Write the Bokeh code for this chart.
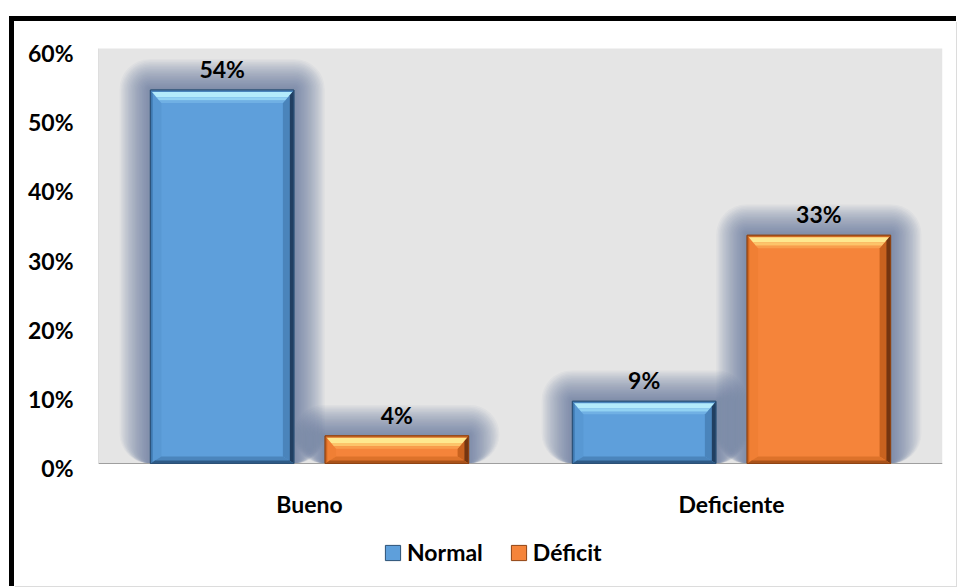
from bokeh.plotting import figure
from bokeh.models import Range1d, LinearAxis, FixedTicker, Legend, LegendItem
from bokeh.core.properties import value
from bokeh.embed import file_html
from bokeh.resources import INLINE

# ---- data -------------------------------------------------------------
categories = ["Bueno", "Deficiente"]
series_names = ["Normal", "Déficit"]
normal_values = [54, 9]
deficit_values = [4, 33]
y_ticks = [0, 10, 20, 30, 40, 50, 60]
y_tick_labels = ["0%", "10%", "20%", "30%", "40%", "50%", "60%"]

# ---- layout (page pixels) -----------------------------------------------
OX, OY = 14, 21                    # top-left of the drawing surface inside the frame
W, H = 942, 565
FRAME_L, FRAME_R = 98, 942
FRAME_T, FRAME_B = 22, 586
ZERO_PX, TOP_PX = 463, 48          # page rows of 0 % and 60 %
ppu = (ZERO_PX - TOP_PX) / 60.0    # pixels per percent
ppx = (FRAME_R - FRAME_L) / 2.0    # pixels per category
y_start = -(FRAME_B - ZERO_PX) / ppu
y_end = 60 + (TOP_PX - FRAME_T) / ppu

FONT = value("Lato")
FS = "23px"

BAR_W = 0.34
DODGE = 0.207

styles = {
    "Normal": dict(base="#5e9fdb", line="#2c5176",
                   top=["#4a85bc", "#b3ebfb", "#92d2f3", "#70b0e4"],
                   left=["#3f79b0", "#5898d3"], right=["#213f61", "#4a84bb"],
                   bottom=["#2e5a86", "#4b85bc"]),
    "Déficit": dict(base="#f5843a", line="#8f4414",
                    top=["#cf6a24", "#fee88f", "#fcc46a", "#f89c4c"],
                    left=["#d0651f", "#f07f34"], right=["#743510", "#c8621f"],
                    bottom=["#a9521a", "#dd722a"]),
}

p = figure(width=W, height=H, x_range=Range1d(0, 2), y_range=Range1d(y_start, y_end),
           x_axis_location=None, y_axis_location=None,
           output_backend="svg", toolbar_location=None,
           min_border_left=FRAME_L - OX, min_border_right=OX + W - FRAME_R,
           min_border_top=FRAME_T - OY, min_border_bottom=OY + H - FRAME_B,
           background_fill_color="white", border_fill_color="white",
           outline_line_color=None,
           styles={"position": "absolute", "left": f"{OX}px", "top": f"{OY}px",
                   "box-shadow": "0 -5px 0 0 #000000, -5px 0 0 0 #000000, "
                                 "-5px -5px 0 0 #000000, 1px 1px 0 0 #dcdcdc"})
for g in p.grid:
    g.visible = False

# plot area
p.quad(left=[0], right=[2], bottom=[0], top=[60], fill_color="#e5e5e5", line_color=None)
p.segment(x0=[0], x1=[0], y0=[0], y1=[60], line_color="#c4c4c4", line_width=1)

# bar geometry
bars = []
for si, (name, vals) in enumerate(zip(series_names, [normal_values, deficit_values])):
    off = -DODGE if si == 0 else DODGE
    for ci, v in enumerate(vals):
        cx = ci + 0.5 + off
        bars.append(dict(series=name, cx=cx, x0=cx - BAR_W / 2, x1=cx + BAR_W / 2, v=v))

# soft glow behind the bars
N_GLOW, STEP = 22, 1.4
for k in range(N_GLOW, 0, -1):
    d = k * STEP
    p.quad(left=[b["x0"] - d / ppx for b in bars],
           right=[b["x1"] + d / ppx for b in bars],
           top=[b["v"] + d / ppu for b in bars],
           bottom=[0] * len(bars),
           fill_color="#4d6f94", fill_alpha=0.048, line_color=None,
           border_radius=int(d))

# category axis line
p.segment(x0=[0], x1=[2], y0=[0], y1=[0], line_color="#9f9f9f", line_width=1)

# bars with bevelled edges
base_renderers = {}
SIDE, TOPB, BOTB = 11.0, 13.0, 7.0


def band(x0, x1, top, bot, sx, ty, by, face, f0, f1):
    """Quadrilateral strip of one bevel face between depth fractions f0 and f1."""
    if face == "top":
        return ([x0 + sx * f0, x1 - sx * f0, x1 - sx * f1, x0 + sx * f1],
                [top - ty * f0, top - ty * f0, top - ty * f1, top - ty * f1])
    if face == "bottom":
        return ([x0 + sx * f0, x1 - sx * f0, x1 - sx * f1, x0 + sx * f1],
                [bot + by * f0, bot + by * f0, bot + by * f1, bot + by * f1])
    if face == "left":
        return ([x0 + sx * f0, x0 + sx * f1, x0 + sx * f1, x0 + sx * f0],
                [top - ty * f0, top - ty * f1, bot + by * f1, bot + by * f0])
    return ([x1 - sx * f0, x1 - sx * f1, x1 - sx * f1, x1 - sx * f0],
            [top - ty * f0, top - ty * f1, bot + by * f1, bot + by * f0])


for name in series_names:
    st = styles[name]
    sb = [b for b in bars if b["series"] == name]
    r = p.quad(left=[b["x0"] for b in sb], right=[b["x1"] for b in sb],
               top=[b["v"] for b in sb], bottom=[0] * len(sb),
               fill_color=st["base"], line_color=st["line"], line_width=1)
    base_renderers[name] = r
    xs, ys, cols = [], [], []
    for b in sb:
        geo = (b["x0"], b["x1"], b["v"], 0.0, SIDE / ppx, TOPB / ppu, BOTB / ppu)
        for face, fr in [("left", [0, 0.22, 1]), ("right", [0, 0.4, 1]),
                         ("bottom", [0, 0.45, 1]), ("top", [0, 0.15, 0.55, 0.8, 1])]:
            for i in range(len(fr) - 1):
                bx, by_ = band(*geo, face, fr[i], fr[i + 1])
                xs.append(bx)
                ys.append(by_)
                cols.append(st[face][i])
    p.patches(xs=xs, ys=ys, fill_color=cols, line_color=None)
    p.quad(left=[b["x0"] for b in sb], right=[b["x1"] for b in sb],
           top=[b["v"] for b in sb], bottom=[0] * len(sb),
           fill_color=None, line_color=st["line"], line_width=1)

# value labels
p.text(x=[b["cx"] for b in bars], y=[b["v"] for b in bars],
       text=[f"{b['v']}%" for b in bars],
       text_font=FONT, text_font_style="bold", text_font_size=FS,
       text_align="center", text_baseline="middle", y_offset=-21, text_color="black")

# category labels
p.text(x=[i + 0.5 for i in range(len(categories))], y=[0] * len(categories), text=categories,
       text_font=FONT, text_font_style="bold", text_font_size=FS,
       text_align="center", text_baseline="middle", y_offset=40, text_color="black")

# percentage axis
shift = 4.5 / ppu
p.extra_y_ranges = {"lab": Range1d(y_start + shift, y_end + shift)}
yaxis = LinearAxis(y_range_name="lab", ticker=FixedTicker(ticks=y_ticks),
                   major_label_overrides={t: l for t, l in zip(y_ticks, y_tick_labels)},
                   axis_line_color=None, major_tick_line_color=None,
                   minor_tick_line_color=None, major_tick_out=0, major_tick_in=0,
                   major_label_standoff=25,
                   major_label_text_font="Lato", major_label_text_font_style="bold",
                   major_label_text_font_size=FS, major_label_text_color="black")
p.add_layout(yaxis, "left")

legend = Legend(items=[LegendItem(label=n, renderers=[base_renderers[n]]) for n in series_names],
                orientation="horizontal", location=(285, 20),
                padding=0, margin=0, spacing=26, label_standoff=5,
                glyph_width=19, glyph_height=19,
                border_line_color=None, background_fill_alpha=0,
                label_text_font="Lato", label_text_font_style="bold",
                label_text_font_size=FS, label_text_color="black")
p.add_layout(legend)

open("out.html", "w").write(file_html(p, INLINE))
